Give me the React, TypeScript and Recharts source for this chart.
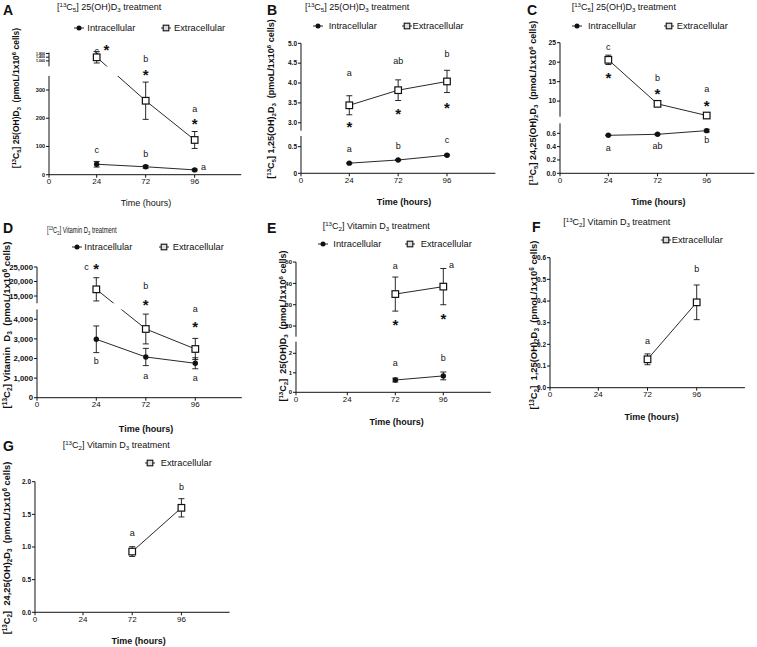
import React from 'react';
import { ComposedChart, Line, Scatter, XAxis, YAxis, ErrorBar, ReferenceArea, ReferenceLine } from 'recharts';

const FONT = 'Arial, "Liberation Sans", sans-serif';
const INK = '#111';

// x axis: categories at equal steps, "0" sits at the origin
const hourLabels = ['0', '24', '72', '96'];
const hourPos: Record<number, number> = { 24: 1, 72: 2, 96: 3 };
const times3 = [24, 72, 96];
const times2 = [72, 96];

// A  [13C5]25(OH)D3 treatment -> 25(OH)D3
const aExt = [1390, 262, 123];
const aExtSd = [620, 66, 30];
const aInt = [37, 28, 17];
const aIntSd = [10, 5, 3];
const aTicks = [0, 100, 200, 300, 1000, 1400, 1800];
const aTickLabels = ['0', '100', '200', '300', '1,000', '1,400', '1,800'];
const aNotes = [
  { x: 1, v: 2000, t: 'c' }, { x: 1.2, v: 2540, t: '*' },
  { x: 2, v: 1200, t: 'b' }, { x: 2, v: 372, t: '*' },
  { x: 3, v: 233, t: 'a' }, { x: 3, v: 194, t: '*' },
  { x: 1, v: 87, t: 'c' }, { x: 2, v: 73, t: 'b' }, { x: 3.18, v: 25, t: 'a' },
];

// B  -> 1,25(OH)2D3
const bExt = [3.44, 3.82, 4.04];
const bExtSd = [0.24, 0.26, 0.28];
const bInt = [0.19, 0.25, 0.34];
const bIntSd = [0.01, 0.01, 0.015];
const bTicks = [0, 0.5, 3.0, 3.5, 4.0, 4.5, 5.0];
const bTickLabels = ['0', '0.5', '3.0', '3.5', '4.0', '4.5', '5.0'];
const bNotes = [
  { x: 1, v: 4.25, t: 'a' }, { x: 1, v: 2.99, t: '*' },
  { x: 2, v: 4.55, t: 'ab' }, { x: 2, v: 3.3, t: '*' },
  { x: 3, v: 4.73, t: 'b' }, { x: 3, v: 3.45, t: '*' },
  { x: 1, v: 0.45, t: 'a' }, { x: 2, v: 0.5, t: 'b' }, { x: 3, v: 0.61, t: 'c' },
];

// C  -> 24,25(OH)2D3
const cExt = [20.6, 9.3, 6.3];
const cExtSd = [1.2, 0.5, 0.3];
const cInt = [0.57, 0.585, 0.64];
const cIntSd = [0.005, 0.008, 0.02];
const cTicks = [0, 0.2, 0.4, 0.6, 10, 15, 20, 25];
const cTickLabels = ['0.0', '0.2', '0.4', '0.6', '10', '15', '20', '25'];
const cNotes = [
  { x: 1, v: 23.7, t: 'c' }, { x: 1, v: 16.9, t: '*' },
  { x: 2, v: 15.8, t: 'b' }, { x: 2, v: 12.7, t: '*' },
  { x: 3, v: 13.0, t: 'a' }, { x: 3, v: 9.6, t: '*' },
  { x: 1, v: 0.375, t: 'a' }, { x: 2, v: 0.41, t: 'ab' }, { x: 3, v: 0.5, t: 'b' },
];

// D  [13C2]Vitamin D3 treatment -> vitamin D3
const dExt = [17310, 3505, 2485];
const dExtSd = [4000, 760, 540];
const dInt = [2980, 2077, 1755];
const dIntSd = [680, 440, 280];
const dTicks = [0, 1000, 2000, 3000, 4000, 15000, 20000, 25000];
const dTickLabels = ['0', '1,000', '2,000', '3,000', '4,000', '15,000', '20,000', '25,000'];
const dNotes = [
  { x: 0.8, v: 24900, t: 'c' }, { x: 1, v: 25700, t: '*' },
  { x: 2, v: 18200, t: 'b' }, { x: 2, v: 13300, t: '*' },
  { x: 3, v: 4500, t: 'a' }, { x: 3, v: 3800, t: '*' },
  { x: 1, v: 1840, t: 'b' }, { x: 2, v: 1070, t: 'a' }, { x: 3, v: 990, t: 'a' },
];

// E  -> 25(OH)D3
const eExt = [35.0, 38.5];
const eExtSd = [8, 8.5];
const eInt = [0.63, 0.84];
const eIntSd = [0.1, 0.2];
const eTicks = [0, 1, 2, 20, 30, 40, 50];
const eTickLabels = ['0', '1', '2', '20', '30', '40', '50'];
const eNotes = [
  { x: 2, v: 48.2, t: 'a' }, { x: 2, v: 22.4, t: '*' },
  { x: 3.17, v: 48.7, t: 'a' }, { x: 3, v: 25.2, t: '*' },
  { x: 2, v: 1.49, t: 'a' }, { x: 3, v: 1.74, t: 'b' },
];

// F  -> 1,25(OH)2D3
const fExt = [0.131, 0.394];
const fExtSd = [0.025, 0.08];
const fTicks = [0, 0.1, 0.2, 0.3, 0.4, 0.5, 0.6];
const fTickLabels = ['0.0', '0.1', '0.2', '0.3', '0.4', '0.5', '0.6'];
const fNotes = [{ x: 2, v: 0.212, t: 'a' }, { x: 3, v: 0.546, t: 'b' }];

// G  -> 24,25(OH)2D3
const gExt = [0.93, 1.6];
const gExtSd = [0.075, 0.14];
const gTicks = [0, 0.5, 1.0, 1.5, 2.0];
const gTickLabels = ['0.0', '0.5', '1.0', '1.5', '2.0'];
const gNotes = [{ x: 2, v: 1.21, t: 'a' }, { x: 3, v: 1.91, t: 'b' }];

type Seg = { loMax: number; loPx: number; hi?: [number, number]; hiPx?: [number, number] };
type Note = { x: number; v: number; t: string };
type Series = { kind: 'int' | 'ext'; times: number[]; mean: number[]; sd: number[] };
type Panel = {
  axisX: number; axisY: number; plotTop: number; x0: number; xEnd: number; step: number;
  seg: Seg; ticks: number[]; tickLabels: string[]; tickFont: number | number[];
  series: Series[]; notes: Note[];
};

// broken y axis: value -> pixels above the x axis
const makeDisp = (s: Seg) => (v: number) => {
  if (!s.hi || !s.hiPx || v <= s.loMax) return (v / s.loMax) * s.loPx;
  if (v < s.hi[0]) return s.loPx + ((v - s.loMax) / (s.hi[0] - s.loMax)) * (s.hiPx[0] - s.loPx);
  return s.hiPx[0] + ((v - s.hi[0]) / (s.hi[1] - s.hi[0])) * (s.hiPx[1] - s.hiPx[0]);
};

const YW = 40;
const XH = 18;

const Circle = (p: any) =>
  p.cx == null ? null : <circle key={`c${p.index}`} cx={p.cx} cy={p.cy} r={2.7} fill={INK} />;
const Square = (p: any) =>
  p.cx == null ? null : (
    <rect key={`s${p.index}`} x={p.cx - 3.3} y={p.cy - 3.3} width={6.6} height={6.6} fill="#fff" stroke={INK} strokeWidth={1.2} />
  );

const NoteShape = (p: any) => {
  const t = p.payload?.t ?? '';
  const star = t === '*';
  const fs = star ? 15 : 9;
  return (
    <text x={p.cx} y={p.cy + (star ? 0.575 : 0.3) * fs} textAnchor="middle" fontSize={fs}
      fontFamily={FONT} fontWeight={star ? 'bold' : 'normal'} fill={INK}>
      {t}
    </text>
  );
};

function PanelChart({ p }: { p: Panel }) {
  const disp = makeDisp(p.seg);
  const plotH = p.axisY - p.plotTop;
  const plotW = (p.xEnd - p.x0) * p.step;
  const s = p.seg;
  const segs: [number, number][] = s.hi && s.hiPx ? [[0, s.loPx], [s.hiPx[0], s.hiPx[1]]] : [[0, s.loPx]];
  const notes = p.notes.map((n) => ({ x: n.x, y: disp(n.v), t: n.t }));
  const fontOf = (i: number) => (Array.isArray(p.tickFont) ? p.tickFont[i] : p.tickFont);
  const yTick = (tp: any) => (
    <text key={`yt${tp.index}`} x={tp.x} y={tp.y} dy="0.35em" textAnchor="end" fontSize={fontOf(tp.index)}
      fontFamily={FONT} fontWeight="bold" fill={INK}>
      {p.tickLabels[tp.index]}
    </text>
  );
  return (
    <div style={{ position: 'absolute', left: p.axisX - YW, top: p.plotTop }}>
      <ComposedChart width={YW + plotW + 2} height={plotH + XH} margin={{ top: 0, right: 2, bottom: 0, left: 0 }}>
        <XAxis
          type="number" dataKey="x" domain={[p.x0, p.xEnd]} ticks={[p.x0, 1, 2, 3]} interval={0}
          tickFormatter={(_v: number, i: number) => hourLabels[i]} height={XH} tickSize={3} tickMargin={1}
          axisLine={{ stroke: INK }} tickLine={{ stroke: INK }}
          tick={{ fontSize: 8, fill: INK, fontFamily: FONT }}
        />
        <YAxis
          type="number" domain={[0, plotH]} ticks={p.ticks.map(disp)} interval={0}
          width={YW} tickSize={3} tickMargin={1}
          axisLine={false} tickLine={{ stroke: INK }}
          tick={yTick}
        />
        {p.series.map((sr) => {
          const pts = sr.times.map((h, i) => {
            const y = disp(sr.mean[i]);
            return { x: hourPos[h], y, e: [y - disp(sr.mean[i] - sr.sd[i]), disp(sr.mean[i] + sr.sd[i]) - y] };
          });
          return (
            <Line key={sr.kind} data={pts} dataKey="y" type="linear" stroke={INK} strokeWidth={0.9}
              dot={sr.kind === 'int' ? Circle : Square} activeDot={false} isAnimationActive={false}>
              <ErrorBar dataKey="e" direction="y" width={3} stroke={INK} strokeWidth={0.9} />
            </Line>
          );
        })}
        {s.hi && s.hiPx && (
          <ReferenceArea x1={p.x0} x2={p.xEnd} y1={s.loPx} y2={s.hiPx[0]} fill="#fff" fillOpacity={1}
            stroke="none" ifOverflow="visible" zIndex={450} />
        )}
        {segs.map((g, i) => (
          <ReferenceLine key={i} segment={[{ x: p.x0, y: g[0] }, { x: p.x0, y: g[1] }]} stroke={INK}
            strokeWidth={1} ifOverflow="visible" zIndex={460} />
        ))}
        <Scatter data={notes} dataKey="y" shape={NoteShape} isAnimationActive={false} />
      </ComposedChart>
    </div>
  );
}

const Sup = ({ children }: any) => (
  <span style={{ fontSize: '0.68em', position: 'relative', top: '-0.5em' }}>{children}</span>
);
const Sub = ({ children }: any) => (
  <span style={{ fontSize: '0.68em', position: 'relative', top: '0.3em' }}>{children}</span>
);
const Iso = ({ n }: { n: string }) => (
  <>
    [<Sup>13</Sup>C<Sub>{n}</Sub>]
  </>
);
const Cells = () => (
  <>
    (pmoL/1x10<Sup>6</Sup> cells)
  </>
);

const Letter = ({ x, y, c }: { x: number; y: number; c: string }) => (
  <div style={{ position: 'absolute', left: x, top: y - 1.6, fontSize: 14, lineHeight: '14px', fontWeight: 'bold' }}>{c}</div>
);
const Title = ({ x, y, n, vit, size = 9, sx = 1 }: { x: number; y: number; n: string; vit?: boolean; size?: number; sx?: number }) => (
  <div style={{ position: 'absolute', left: x, top: y - 6, fontSize: size, lineHeight: '12px', whiteSpace: 'nowrap',
    transform: `scaleX(${sx})`, transformOrigin: 'left center' }}>
    <Iso n={n} /> {vit ? 'Vitamin D' : '25(OH)D'}<Sub>3</Sub> treatment
  </div>
);
const YTitle = ({ x, y, size, children }: any) => (
  <div style={{ position: 'absolute', left: x, top: y, fontSize: size, lineHeight: '12px', fontWeight: 'bold',
    whiteSpace: 'nowrap', transform: 'translate(-50%, -50%) rotate(-90deg)' }}>
    {children}
  </div>
);
const XTitle = ({ x, y, bold = true }: { x: number; y: number; bold?: boolean }) => (
  <div style={{ position: 'absolute', left: x, top: y, fontSize: 9, lineHeight: '12px', fontWeight: bold ? 'bold' : 'normal',
    whiteSpace: 'nowrap', transform: 'translate(-50%, -50%)' }}>
    Time (hours)
  </div>
);
const Key = ({ x, y, tx, kind }: { x: number; y: number; tx: number; kind: 'int' | 'ext' }) => (
  <>
    <svg style={{ position: 'absolute', left: x - 5, top: y - 4 }} width={10} height={8}>
      <line x1={0} y1={4} x2={10} y2={4} stroke={INK} strokeWidth={0.9} />
      {kind === 'int' ? (
        <circle cx={5} cy={4} r={2.5} fill={INK} />
      ) : (
        <rect x={2.2} y={1.2} width={5.6} height={5.6} fill="#ddd" stroke={INK} strokeWidth={1.1} />
      )}
    </svg>
    <div style={{ position: 'absolute', left: tx, top: y - 6, fontSize: 9.3, lineHeight: '12px', whiteSpace: 'nowrap' }}>
      {kind === 'int' ? 'Intracellular' : 'Extracellular'}
    </div>
  </>
);

const both = (ext: number[], extSd: number[], int: number[], intSd: number[], times: number[]): Series[] => [
  { kind: 'int', times, mean: int, sd: intSd },
  { kind: 'ext', times, mean: ext, sd: extSd },
];

const panelA: Panel = {
  axisX: 49.3, axisY: 174.7, plotTop: 40, x0: 0.027, xEnd: 3.95, step: 49,
  seg: { loMax: 350, loPx: 98.8, hi: [400, 1900], hiPx: [108.3, 122.1] },
  ticks: aTicks, tickLabels: aTickLabels, tickFont: [5.5, 5.5, 5.5, 5.5, 3.6, 3.6, 3.6],
  series: both(aExt, aExtSd, aInt, aIntSd, times3), notes: aNotes,
};
const panelB: Panel = {
  axisX: 300.7, axisY: 173.3, plotTop: 40, x0: 0.011, xEnd: 3.99, step: 48.85,
  seg: { loMax: 0.7, loPx: 37.3, hi: [2.8, 5.0], hiPx: [42.6, 130] },
  ticks: bTicks, tickLabels: bTickLabels, tickFont: 6.5,
  series: both(bExt, bExtSd, bInt, bIntSd, times3), notes: bNotes,
};
const panelC: Panel = {
  axisX: 560, axisY: 173.3, plotTop: 40, x0: 0.018, xEnd: 3.97, step: 49.2,
  seg: { loMax: 0.75, loPx: 50, hi: [6, 25], hiPx: [56.6, 130.6] },
  ticks: cTicks, tickLabels: cTickLabels, tickFont: 6.8,
  series: both(cExt, cExtSd, cInt, cIntSd, times3), notes: cNotes,
};
const panelD: Panel = {
  axisX: 36.7, axisY: 397.7, plotTop: 258, x0: -0.198, xEnd: 3.94, step: 49.5,
  seg: { loMax: 4500, loPx: 88.2, hi: [12500, 25000], hiPx: [94.4, 130.7] },
  ticks: dTicks, tickLabels: dTickLabels, tickFont: 7.8,
  series: both(dExt, dExtSd, dInt, dIntSd, times3), notes: dNotes,
};
const panelE: Panel = {
  axisX: 296, axisY: 392.3, plotTop: 258, x0: -0.069, xEnd: 3.99, step: 48,
  seg: { loMax: 2.6, loPx: 50.7, hi: [15, 50], hiPx: [55.6, 130.2] },
  ticks: eTicks, tickLabels: eTickLabels, tickFont: 6,
  series: both(eExt, eExtSd, eInt, eIntSd, times2), notes: eNotes,
};
const panelF: Panel = {
  axisX: 550, axisY: 387.7, plotTop: 252, x0: 0.018, xEnd: 3.98, step: 49.2,
  seg: { loMax: 0.6, loPx: 130 },
  ticks: fTicks, tickLabels: fTickLabels, tickFont: 6.5,
  series: [{ kind: 'ext', times: times2, mean: fExt, sd: fExtSd }], notes: fNotes,
};
const panelG: Panel = {
  axisX: 35.3, axisY: 612.3, plotTop: 475, x0: 0.024, xEnd: 3.98, step: 49.2,
  seg: { loMax: 2.0, loPx: 130.6 },
  ticks: gTicks, tickLabels: gTickLabels, tickFont: 6.5,
  series: [{ kind: 'ext', times: times2, mean: gExt, sd: gExtSd }], notes: gNotes,
};

export default function App() {
  return (
    <div style={{ position: 'absolute', left: 0, top: 0, width: 757, height: 647, background: '#fff',
      fontFamily: FONT, color: INK, overflow: 'hidden' }}>
      {/* A */}
      <Letter x={3} y={5} c="A" />
      <Title x={57} y={7} n="5" />
      <Key x={78.7} y={28} tx={87.3} kind="int" />
      <Key x={165.7} y={28} tx={174} kind="ext" />
      <YTitle x={15.7} y={98} size={8.5}><Iso n="5" /> 25(OH)D<Sub>3</Sub>&nbsp; <Cells /></YTitle>
      <PanelChart p={panelA} />
      <XTitle x={146} y={203} bold={false} />

      {/* B */}
      <Letter x={267} y={5} c="B" />
      <Title x={305} y={7} n="5" />
      <Key x={318.3} y={26} tx={328.7} kind="int" />
      <Key x={406.7} y={26} tx={412.5} kind="ext" />
      <YTitle x={270.7} y={99} size={9}><Iso n="5" /> 1,25(OH)<Sub>2</Sub>D<Sub>3</Sub>&nbsp; <Cells /></YTitle>
      <PanelChart p={panelB} />
      <XTitle x={404} y={202.3} />

      {/* C */}
      <Letter x={527} y={5} c="C" />
      <Title x={571.7} y={7} n="5" />
      <Key x={577.3} y={26} tx={588} kind="int" />
      <Key x={669.3} y={26} tx={676.7} kind="ext" />
      <YTitle x={533} y={103} size={9}><Iso n="5" /> 24,25(OH)<Sub>2</Sub>D<Sub>3</Sub>&nbsp; <Cells /></YTitle>
      <PanelChart p={panelC} />
      <XTitle x={658.3} y={202.3} />

      {/* D */}
      <Letter x={3} y={223} c="D" />
      <Title x={47.3} y={230} n="2" vit size={8.4} sx={0.7} />
      <Key x={76.7} y={247.3} tx={84.3} kind="int" />
      <Key x={164.3} y={247.3} tx={172.7} kind="ext" />
      <YTitle x={6.5} y={325} size={9.6}><Iso n="2" /> Vitamin&nbsp; D<Sub>3</Sub>&nbsp; <Cells /></YTitle>
      <PanelChart p={panelD} />
      <XTitle x={146} y={428.5} />

      {/* E */}
      <Letter x={267} y={223} c="E" />
      <Title x={322.7} y={226} n="2" vit />
      <Key x={322.7} y={244.3} tx={333.3} kind="int" />
      <Key x={410} y={244.3} tx={420.7} kind="ext" />
      <YTitle x={283.3} y={326} size={9}><Iso n="2" />&nbsp; 25(OH)D<Sub>3</Sub>&nbsp; <Cells /></YTitle>
      <PanelChart p={panelE} />
      <XTitle x={396.7} y={422.3} />

      {/* F */}
      <Letter x={532} y={222} c="F" />
      <Title x={563.3} y={221.7} n="2" vit />
      <Key x={665.7} y={240} tx={671.7} kind="ext" />
      <YTitle x={534} y={325} size={9.4}><Iso n="2" />&nbsp; 1,25(OH)<Sub>2</Sub>D<Sub>3</Sub>&nbsp; <Cells /></YTitle>
      <PanelChart p={panelF} />
      <XTitle x={651.7} y={417.3} />

      {/* G */}
      <Letter x={3} y={441} c="G" />
      <Title x={62.7} y={445} n="2" vit />
      <Key x={150} y={463.3} tx={160.7} kind="ext" />
      <YTitle x={6.7} y={547.5} size={9.3}><Iso n="2" />&nbsp; 24,25(OH)<Sub>2</Sub>D<Sub>3</Sub>&nbsp; <Cells /></YTitle>
      <PanelChart p={panelG} />
      <XTitle x={138.7} y={641} />
    </div>
  );
}
